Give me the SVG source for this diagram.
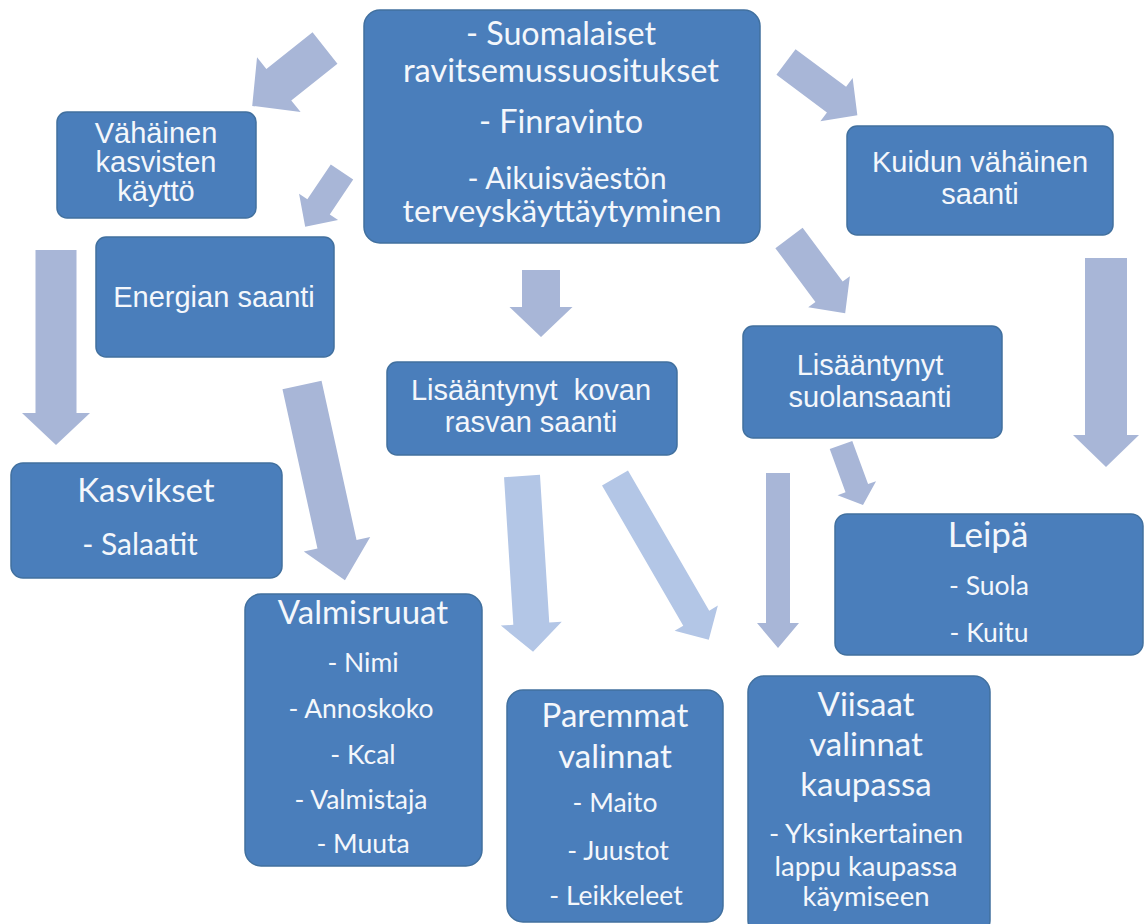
<svg xmlns="http://www.w3.org/2000/svg" width="1145" height="924" viewBox="0 0 1145 924">
<style>
.box{fill:#4A7EBB;stroke:#41709F;stroke-width:1.5}
.arr{fill:#A8B6D7}
.arr2{fill:#B3C6E6}
.a{font-family:"Liberation Sans",Arial,sans-serif;font-size:29px;fill:#F4F7FB;text-anchor:middle}
.c{font-family:Lato,"Open Sans",sans-serif;fill:#F4F7FB;text-anchor:middle}
.t{font-size:33px}
.i{font-size:26.5px}
.m{font-size:32px}
</style>
<rect width="1145" height="924" fill="#FFFFFF"/>
<g id="connectors">
<path class="arr" transform="translate(325,48) rotate(141.5)" d="M0,-20 H59 V-35 L93,0 L59,35 V20 H0 Z"/>
<path class="arr" transform="translate(342,172) rotate(123.9)" d="M0,-13.5 H42 V-23.5 L66,0 L42,23.5 V13.5 H0 Z"/>
<path class="arr" transform="translate(56,250) rotate(90)" d="M0,-20.5 H163 V-34 L195,0 L163,34 V20.5 H0 Z"/>
<path class="arr" transform="translate(302,385) rotate(77.6)" d="M0,-20 H163 V-34 L200,0 L163,34 V20 H0 Z"/>
<path class="arr" transform="translate(541,270) rotate(90)" d="M0,-19 H37 V-31.5 L67,0 L37,31.5 V19 H0 Z"/>
<path class="arr2" transform="translate(522,476) rotate(86.4)" d="M0,-18 H148 V-30.5 L176,0 L148,30.5 V18 H0 Z"/>
<path class="arr2" transform="translate(615,478) rotate(59.9)" d="M0,-15 H162 V-25 L187,0 L162,25 V15 H0 Z"/>
<path class="arr" transform="translate(778,473) rotate(90)" d="M0,-12 H150 V-21 L175,0 L150,21 V12 H0 Z"/>
<path class="arr" transform="translate(786,62) rotate(36.7)" d="M0,-16 H63 V-27 L89,0 L63,27 V16 H0 Z"/>
<path class="arr" transform="translate(789,238) rotate(53.3)" d="M0,-17 H67 V-26 L94,0 L67,26 V17 H0 Z"/>
<path class="arr" transform="translate(1106,258) rotate(90)" d="M0,-21 H177 V-33 L209,0 L177,33 V21 H0 Z"/>
<path class="arr" transform="translate(841,445) rotate(69.9)" d="M0,-12 H46 V-20.5 L64,0 L46,20.5 V12 H0 Z"/>
</g>
<g id="node-center">
<rect class="box" x="364" y="10" width="396" height="233" rx="16"/>
<text class="c m" x="561" y="45" textLength="190" lengthAdjust="spacingAndGlyphs">- Suomalaiset</text>
<text class="c m" x="561" y="82" textLength="316" lengthAdjust="spacingAndGlyphs">ravitsemussuositukset</text>
<text class="c m" x="561" y="133" textLength="164" lengthAdjust="spacingAndGlyphs">- Finravinto</text>
<text class="c" x="567" y="189" font-size="30" textLength="199" lengthAdjust="spacingAndGlyphs">- Aikuisväestön</text>
<text class="c" x="562" y="222" font-size="30" textLength="319" lengthAdjust="spacingAndGlyphs">terveyskäyttäytyminen</text>
</g>
<g id="node-vahainen">
<rect class="box" x="57" y="112" width="199" height="106" rx="10"/>
<text class="a" x="156" y="143" font-size="27">Vähäinen</text>
<text class="a" x="156" y="172" font-size="27">kasvisten</text>
<text class="a" x="156" y="201" font-size="27">käyttö</text>
</g>
<g id="node-energia">
<rect class="box" x="96" y="237" width="238" height="120" rx="10"/>
<text class="a" x="214" y="307">Energian saanti</text>
</g>
<g id="node-kuitu">
<rect class="box" x="847" y="126" width="266" height="109" rx="10"/>
<text class="a" x="980" y="172">Kuidun vähäinen</text>
<text class="a" x="980" y="204">saanti</text>
</g>
<g id="node-rasva">
<rect class="box" x="387" y="362" width="290" height="93" rx="10"/>
<text class="a" x="531" y="400" style="white-space:pre">Lisääntynyt  kovan</text>
<text class="a" x="531" y="432">rasvan saanti</text>
</g>
<g id="node-suola">
<rect class="box" x="743" y="326" width="259" height="112" rx="10"/>
<text class="a" x="870" y="375">Lisääntynyt</text>
<text class="a" x="870" y="407">suolansaanti</text>
</g>
<g id="node-kasvikset">
<rect class="box" x="11" y="463" width="271" height="115" rx="12"/>
<text class="c t" x="146" y="502">Kasvikset</text>
<text class="c" x="140" y="555" font-size="30">- Salaatit</text>
</g>
<g id="node-leipa">
<rect class="box" x="835" y="514" width="308" height="141" rx="12"/>
<text class="c" x="988" y="547" font-size="35">Leipä</text>
<text class="c i" x="989" y="595">- Suola</text>
<text class="c i" x="989" y="642">- Kuitu</text>
</g>
<g id="node-valmisruuat">
<rect class="box" x="245" y="594" width="237" height="272" rx="16"/>
<text class="c t" x="363" y="624">Valmisruuat</text>
<text class="c i" x="363" y="672">- Nimi</text>
<text class="c i" x="361" y="718">- Annoskoko</text>
<text class="c i" x="363" y="764">- Kcal</text>
<text class="c i" x="361" y="809">- Valmistaja</text>
<text class="c i" x="363" y="853">- Muuta</text>
</g>
<g id="node-paremmat">
<rect class="box" x="507" y="690" width="216" height="232" rx="16"/>
<text class="c t" x="615" y="727">Paremmat</text>
<text class="c t" x="615" y="768">valinnat</text>
<text class="c i" x="615" y="812">- Maito</text>
<text class="c i" x="618" y="860">- Juustot</text>
<text class="c i" x="616" y="905">- Leikkeleet</text>
</g>
<g id="node-viisaat">
<rect class="box" x="748" y="676" width="242" height="260" rx="16"/>
<text class="c t" x="866" y="716">Viisaat</text>
<text class="c t" x="866" y="756">valinnat</text>
<text class="c t" x="866" y="796">kaupassa</text>
<text class="c" x="866" y="843" font-size="27.5">- Yksinkertainen</text>
<text class="c" x="866" y="876" font-size="27.5">lappu kaupassa</text>
<text class="c" x="866" y="906" font-size="27.5">käymiseen</text>
</g>
</svg>
